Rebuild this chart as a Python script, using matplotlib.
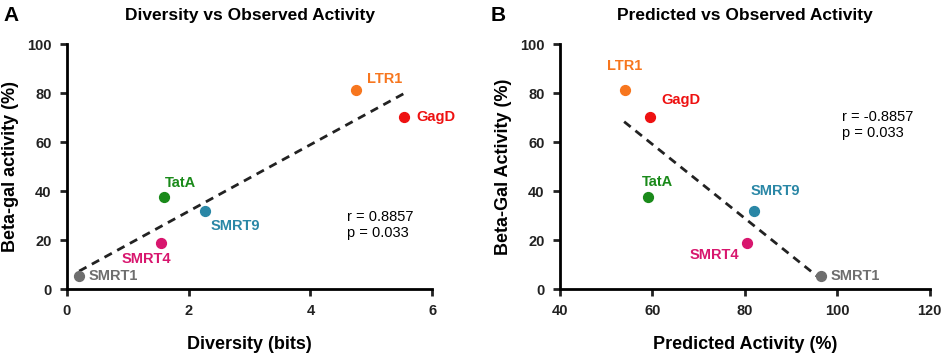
import matplotlib
matplotlib.use('Agg')
import matplotlib.pyplot as plt

plt.rcParams['font.family'] = ['Liberation Sans', 'DejaVu Sans']

# data
names = ['LTR1', 'GagD', 'TatA', 'SMRT9', 'SMRT4', 'SMRT1']
colors = ['#F7761E', '#EE1111', '#1A8A1A', '#2A87A6', '#D8166E', '#6E6E6E']
diversity = [4.75, 5.54, 1.59, 2.27, 1.55, 0.19]
predicted = [54.0, 59.5, 59.0, 81.9, 80.4, 96.4]
observed = [81.2, 70.3, 37.4, 32.0, 18.6, 5.3]

# fitted lines (end points)
fit_a_x = [0.2, 5.56]
fit_a_y = [7.3, 80.1]
fit_b_x = [53.9, 95.6]
fit_b_y = [68.3, 5.3]

# label offsets in points (dx, dy, ha)
offs_a = [(8, 8, 'left'), (9, 0, 'left'), (1, 10, 'left'), (4, -11, 'left'),
          (7, -11, 'right'), (7, 0, 'left')]
offs_b = [(0, 17, 'center'), (8, 12, 'left'), (-4, 11, 'left'), (-2, 14, 'left'),
          (-5, -8, 'right'), (7, 0, 'left')]

fig = plt.figure(figsize=(9.41, 3.54), dpi=100)
axA = fig.add_axes([0.0712, 0.1836, 0.388, 0.692])
axB = fig.add_axes([0.595, 0.1836, 0.393, 0.692])


def style(ax):
    for s in ['top', 'right']:
        ax.spines[s].set_visible(False)
    for s in ['left', 'bottom']:
        ax.spines[s].set_linewidth(2)
    ax.tick_params(width=2, length=5, labelsize=10.5, colors='#222222', pad=6)
    for lab in ax.get_xticklabels() + ax.get_yticklabels():
        lab.set_fontweight('bold')
    ax.set_ylim(0, 100)
    ax.set_yticks([0, 20, 40, 60, 80, 100])


def draw(ax, xs, offs):
    for i in range(len(names)):
        ax.scatter(xs[i], observed[i], s=50, color=colors[i], zorder=3, clip_on=False)
        dx, dy, ha = offs[i]
        ax.annotate(names[i], (xs[i], observed[i]), xytext=(dx, dy),
                    textcoords='offset points', ha=ha, va='center',
                    color=colors[i], fontsize=10.5, fontweight='bold')


# panel A
axA.plot(fit_a_x, fit_a_y, color='#222222', ls=(0, (3, 2.2)), lw=2, zorder=2)
draw(axA, diversity, offs_a)
axA.set_xlim(0, 6)
axA.set_xticks([0, 2, 4, 6])
style(axA)
axA.set_xlabel('Diversity (bits)', fontsize=13, fontweight='bold', labelpad=13)
axA.set_ylabel('Beta-gal activity (%)', fontsize=13, fontweight='bold', labelpad=6)
axA.set_title('Diversity vs Observed Activity', fontsize=12.5, fontweight='bold', pad=17)
axA.text(4.6, 26, 'r = 0.8857\np = 0.033', fontsize=10.5, va='center', linespacing=1.2)
fig.text(0.004, 0.955, 'A', fontsize=15, fontweight='bold', va='center')

# panel B
axB.plot(fit_b_x, fit_b_y, color='#222222', ls=(0, (3, 2.2)), lw=2, zorder=2)
draw(axB, predicted, offs_b)
axB.set_xlim(40, 120)
axB.set_xticks([40, 60, 80, 100, 120])
style(axB)
axB.set_xlabel('Predicted Activity (%)', fontsize=13, fontweight='bold', labelpad=13)
axB.set_ylabel('Beta-Gal Activity (%)', fontsize=13, fontweight='bold', labelpad=6)
axB.set_title('Predicted vs Observed Activity', fontsize=12.5, fontweight='bold', pad=17)
axB.text(101, 67, 'r = -0.8857\np = 0.033', fontsize=10.5, va='center', linespacing=1.2)
fig.text(0.521, 0.955, 'B', fontsize=15, fontweight='bold', va='center')

fig.savefig('out.png', dpi=100)
